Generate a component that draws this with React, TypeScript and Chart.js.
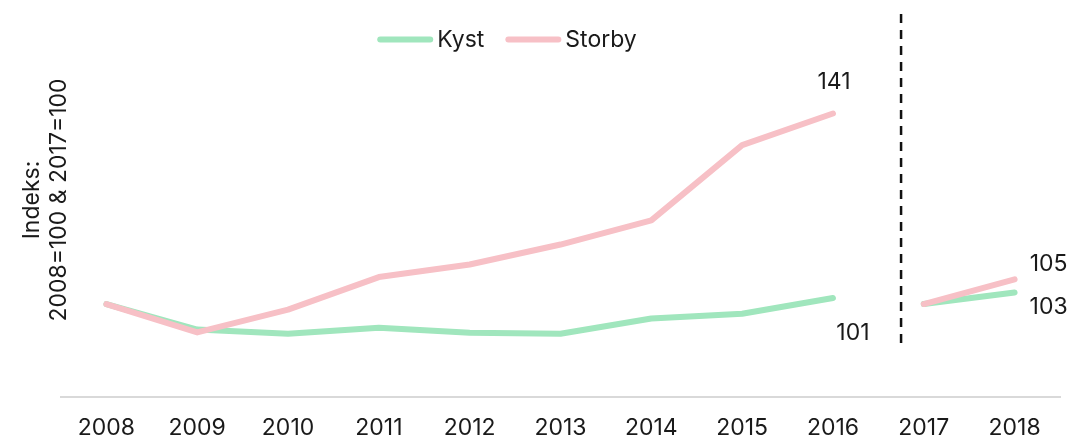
import React, { useEffect, useRef } from "react";
import { Chart, registerables } from "chart.js";

Chart.register(...registerables);

const years = ["2008", "2009", "2010", "2011", "2012", "2013", "2014", "2015", "2016", "2017", "2018"];
const kyst = [100, 94.5, 93.6, 94.9, 93.8, 93.6, 96.9, 97.9, 101.3, 100, 102.5];
const storby = [100, 93.9, 98.8, 105.8, 108.5, 112.8, 118.0, 134.2, 141.0, 100, 105.3];
const seriesNames = ["Kyst", "Storby"];
const seriesColors = ["#a0e6bd", "#f7c0c6"];
const breakIndex = 8; // series are re-based after this index (2017=100)
const labeledIndexes = [8, 10];
const yTitleLines = ["Indeks:", "2008=100 & 2017=100"];
const yMin = 80;
const yMax = 162.4;
const dashBottomValue = 91.2;

const FONT = "Inter, 'DejaVu Sans', sans-serif";
const FONT_SIZE = 23;
const TEXT = "#1a1a1a";

// offsets for value labels [datasetIndex][labeledIndexes position]
const labelOffsets = [
  [ { dx: 20, dy: 35 }, { dx: 34, dy: 15 } ],
  [ { dx: 1, dy: -31 }, { dx: 34, dy: -15 } ],
];

const overlayPlugin = {
  id: "overlay",
  afterDatasetsDraw(chart: any) {
    const { ctx, chartArea, scales } = chart;
    const xs = scales.x;
    const ys = scales.y;
    ctx.save();
    // dashed divider between 2016 and 2017
    const x0 = xs.getPixelForValue(breakIndex);
    const x1 = xs.getPixelForValue(breakIndex + 1);
    const dx = x0 + 0.75 * (x1 - x0);
    ctx.strokeStyle = "#111";
    ctx.lineWidth = 2.5;
    ctx.setLineDash([9, 7]);
    ctx.beginPath();
    ctx.moveTo(dx, chartArea.top);
    ctx.lineTo(dx, ys.getPixelForValue(dashBottomValue));
    ctx.stroke();
    ctx.setLineDash([]);

    // value labels
    ctx.font = `${FONT_SIZE}px ${FONT}`;
    ctx.fillStyle = TEXT;
    ctx.textAlign = "center";
    ctx.textBaseline = "middle";
    chart.data.datasets.forEach((ds: any, di: number) => {
      const meta = chart.getDatasetMeta(di);
      labeledIndexes.forEach((idx, li) => {
        const pt = meta.data[idx];
        const off = labelOffsets[di][li];
        ctx.fillText(String(Math.round(ds.data[idx])), pt.x + off.dx, pt.y + off.dy);
      });
    });

    // y-axis title (two rotated lines)
    const titleCenterY = 200;
    const lineX = [32, 59];
    yTitleLines.forEach((t, i) => {
      ctx.save();
      ctx.translate(lineX[i], titleCenterY);
      ctx.rotate(-Math.PI / 2);
      ctx.fillText(t, 0, 0);
      ctx.restore();
    });

    // legend
    const lineLen = 50;
    const cap = 3;
    const gapText = 4;
    const gapItem = 21;
    const widths = seriesNames.map((n) => ctx.measureText(n).width);
    const total = widths.reduce((s, w, i) => s + lineLen + 2 * cap + gapText + w + (i > 0 ? gapItem : 0), 0);
    let cx = 507 - total / 2;
    const ly = 39.5;
    ctx.textAlign = "left";
    ctx.lineCap = "round";
    ctx.lineWidth = 6;
    seriesNames.forEach((n, i) => {
      ctx.strokeStyle = seriesColors[i];
      ctx.beginPath();
      ctx.moveTo(cx + cap, ly);
      ctx.lineTo(cx + cap + lineLen, ly);
      ctx.stroke();
      cx += lineLen + 2 * cap + gapText;
      ctx.fillStyle = TEXT;
      ctx.fillText(n, cx, ly + 1);
      cx += widths[i] + gapItem;
    });
    ctx.restore();
  },
};

export default function App() {
  const canvasRef = useRef<HTMLCanvasElement | null>(null);

  useEffect(() => {
    const canvas = canvasRef.current;
    if (!canvas) return;
    const hideBreak = (ctx: any) => (ctx.p0DataIndex === breakIndex ? "rgba(0,0,0,0)" : undefined);
    const chart = new Chart(canvas, {
      type: "line",
      data: {
        labels: years,
        datasets: [
          {
            label: seriesNames[0],
            data: kyst,
            borderColor: seriesColors[0],
            backgroundColor: seriesColors[0],
            borderWidth: 6,
            borderCapStyle: "round",
            borderJoinStyle: "round",
            pointRadius: 0,
            tension: 0,
            order: 2,
            segment: { borderColor: hideBreak },
          },
          {
            label: seriesNames[1],
            data: storby,
            borderColor: seriesColors[1],
            backgroundColor: seriesColors[1],
            borderWidth: 6,
            borderCapStyle: "round",
            borderJoinStyle: "round",
            pointRadius: 0,
            tension: 0,
            order: 1,
            segment: { borderColor: hideBreak },
          },
        ],
      },
      options: {
        responsive: false,
        animation: false,
        layout: { padding: { left: 61, right: 11, top: 14, bottom: 0 } },
        plugins: {
          legend: { display: false },
          tooltip: { enabled: false },
        },
        scales: {
          x: {
            offset: true,
            grid: { display: false, drawTicks: false },
            border: { display: true, color: "#d9d9d9", width: 2 },
            ticks: {
              color: TEXT,
              font: { family: FONT, size: FONT_SIZE },
              padding: 17,
              maxRotation: 0,
              autoSkip: false,
            },
            afterFit: (scale: any) => {
              scale.height = 43;
            },
          },
          y: {
            display: false,
            min: yMin,
            max: yMax,
          },
        },
      },
      plugins: [overlayPlugin],
    } as any);
    return () => chart.destroy();
  }, []);

  return (
    <div style={{ position: "absolute", left: 0, top: 0, width: 1071, height: 440, background: "#fff" }}>
      <canvas ref={canvasRef} width={1071} height={440} style={{ width: 1071, height: 440, display: "block" }} />
    </div>
  );
}
